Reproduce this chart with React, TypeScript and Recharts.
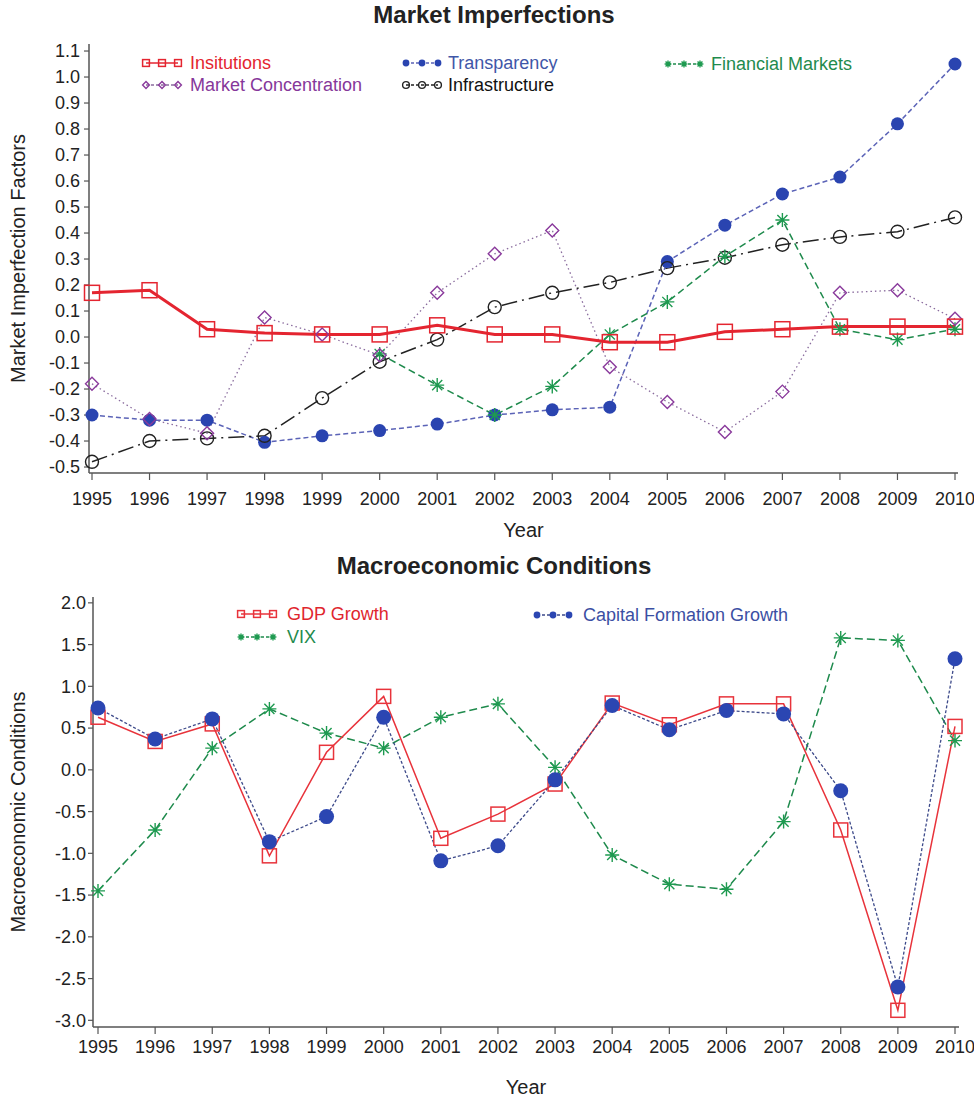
import React from 'react';
import { LineChart, Line, XAxis, YAxis } from 'recharts';

// shared x categories
const YEARS = [1995, 1996, 1997, 1998, 1999, 2000, 2001, 2002, 2003, 2004, 2005, 2006, 2007, 2008, 2009, 2010];

// Market Imperfections
const INSTITUTIONS = [0.17, 0.18, 0.03, 0.015, 0.01, 0.01, 0.045, 0.01, 0.01, -0.02, -0.02, 0.02, 0.03, 0.04, 0.04, 0.04];
const TRANSPARENCY = [-0.3, -0.32, -0.32, -0.405, -0.38, -0.36, -0.335, -0.3, -0.28, -0.27, 0.29, 0.43, 0.55, 0.615, 0.82, 1.05];
const FINANCIAL_MARKETS = [null, null, null, null, null, -0.065, -0.185, -0.3, -0.19, 0.01, 0.135, 0.31, 0.45, 0.03, -0.01, 0.03];
const MARKET_CONCENTRATION = [-0.18, -0.315, -0.37, 0.075, 0.01, -0.07, 0.17, 0.32, 0.41, -0.115, -0.25, -0.365, -0.21, 0.17, 0.18, 0.07];
const INFRASTRUCTURE = [-0.48, -0.4, -0.39, -0.38, -0.235, -0.095, -0.01, 0.115, 0.17, 0.21, 0.265, 0.305, 0.355, 0.385, 0.405, 0.46];
const MI_TICKS = [-0.5, -0.4, -0.3, -0.2, -0.1, 0, 0.1, 0.2, 0.3, 0.4, 0.5, 0.6, 0.7, 0.8, 0.9, 1.0, 1.1];

// Macroeconomic Conditions
const GDP_GROWTH = [0.63, 0.34, 0.55, -1.03, 0.21, 0.88, -0.82, -0.53, -0.17, 0.8, 0.54, 0.79, 0.79, -0.72, -2.88, 0.52];
const CAPITAL_FORMATION = [0.74, 0.37, 0.61, -0.86, -0.56, 0.63, -1.09, -0.91, -0.12, 0.77, 0.48, 0.71, 0.67, -0.25, -2.6, 1.33];
const VIX = [-1.45, -0.72, 0.26, 0.73, 0.44, 0.26, 0.63, 0.79, 0.03, -1.02, -1.37, -1.43, -0.62, 1.58, 1.55, 0.35];
const MC_TICKS = [-3, -2.5, -2, -1.5, -1, -0.5, 0, 0.5, 1, 1.5, 2];

const FONT = '"Liberation Sans", Arial, Helvetica, sans-serif';
const AXIS = '#555';

type Kind = 'square' | 'disc' | 'circle' | 'diamond' | 'star';

interface Series {
  key: string;
  name: string;
  stroke: string;
  width: number;
  dash?: string;
  kind: Kind;
  markColor: string;
  r: number;
  text: string;
}

const Marker = ({ kind, x, y, r, color }: { kind: Kind; x: number; y: number; r: number; color: string }) => {
  switch (kind) {
    case 'square':
      return <rect x={x - r} y={y - r} width={2 * r} height={2 * r} fill="none" stroke={color} strokeWidth={1.5} />;
    case 'disc':
      return <circle cx={x} cy={y} r={r} fill={color} />;
    case 'circle':
      return <circle cx={x} cy={y} r={r} fill="none" stroke={color} strokeWidth={1.4} />;
    case 'diamond':
      return <path d={`M${x},${y - r}L${x + r},${y}L${x},${y + r}L${x - r},${y}Z`} fill="none" stroke={color} strokeWidth={1.4} />;
    default: {
      const d = r * 0.72;
      return (
        <path
          d={`M${x},${y - r}V${y + r}M${x - r},${y}H${x + r}M${x - d},${y - d}L${x + d},${y + d}M${x - d},${y + d}L${x + d},${y - d}`}
          stroke={color}
          strokeWidth={1.4}
          fill="none"
        />
      );
    }
  }
};

const dotFor = (s: Series) => (p: any) => {
  const k = `${s.key}-${p.index}`;
  if (p.cx == null || p.cy == null || p.value == null) return <g key={k} />;
  return (
    <g key={k}>
      <Marker kind={s.kind} x={p.cx} y={p.cy} r={s.r} color={s.markColor} />
    </g>
  );
};

const MI_SERIES: Series[] = [
  { key: 'transparency', name: 'Transparency', stroke: '#5b63b7', width: 1.5, dash: '5 3', kind: 'disc', markColor: '#2a44b0', r: 6.5, text: '#3f57a8' },
  { key: 'infrastructure', name: 'Infrastructure', stroke: '#222', width: 1.5, dash: '16 5 2 5', kind: 'circle', markColor: '#222', r: 6.5, text: '#111' },
  { key: 'financial', name: 'Financial Markets', stroke: '#1e8a4c', width: 1.5, dash: '7 4', kind: 'star', markColor: '#1e9a50', r: 7, text: '#1f8b4d' },
  { key: 'concentration', name: 'Market Concentration', stroke: '#8a6c9e', width: 1.3, dash: '1.5 3', kind: 'diamond', markColor: '#8a3a9c', r: 6.5, text: '#86379a' },
  { key: 'institutions', name: 'Insitutions', stroke: '#e42530', width: 3, kind: 'square', markColor: '#e42530', r: 7.5, text: '#e4252f' },
];

const MC_SERIES: Series[] = [
  { key: 'vix', name: 'VIX', stroke: '#1e8a4c', width: 1.5, dash: '8 4', kind: 'star', markColor: '#1e9a50', r: 7, text: '#1f8b4d' },
  { key: 'gdp', name: 'GDP Growth', stroke: '#e8333b', width: 1.5, kind: 'square', markColor: '#e8333b', r: 7, text: '#e0262e' },
  { key: 'capital', name: 'Capital Formation Growth', stroke: '#3d4a8a', width: 1.3, dash: '3 2', kind: 'disc', markColor: '#2b46b2', r: 7.5, text: '#3b4fa3' },
];

const miData = YEARS.map((year, i) => ({
  year,
  institutions: INSTITUTIONS[i],
  transparency: TRANSPARENCY[i],
  financial: FINANCIAL_MARKETS[i],
  concentration: MARKET_CONCENTRATION[i],
  infrastructure: INFRASTRUCTURE[i],
}));

const mcData = YEARS.map((year, i) => ({
  year,
  gdp: GDP_GROWTH[i],
  capital: CAPITAL_FORMATION[i],
  vix: VIX[i],
}));

const byKey = (list: Series[], key: string) => list.find((s) => s.key === key)!;

const LegendItem = ({ s, x, y, textX }: { s: Series; x: number; y: number; textX: number }) => (
  <>
    <svg style={{ position: 'absolute', left: x, top: y - 7 }} width={44} height={14}>
      <line x1={5} y1={7} x2={37} y2={7} stroke={s.stroke} strokeWidth={Math.min(s.width, 1.5)} strokeDasharray={s.dash ? '3 2' : undefined} />
      {[5, 21, 37].map((mx) => (
        <Marker key={mx} kind={s.kind} x={mx} y={7} r={3.4} color={s.markColor} />
      ))}
    </svg>
    <span style={{ position: 'absolute', left: textX, top: y - 11, fontSize: 18, lineHeight: '22px', color: s.text, whiteSpace: 'nowrap' }}>
      {s.name}
    </span>
  </>
);

const Title = ({ text, top }: { text: string; top: number }) => (
  <div style={{ position: 'absolute', left: 0, width: 988, top, textAlign: 'center', fontSize: 24, lineHeight: '28px', fontWeight: 'bold', color: '#222' }}>
    {text}
  </div>
);

const tickStyle = { fontSize: 18, fill: '#222', fontFamily: FONT };
const axisTitle = { fontSize: 20, fill: '#222', fontFamily: FONT, textAnchor: 'middle' as const };

export default function App() {
  return (
    <div style={{ position: 'absolute', left: 0, top: 0, width: 974, height: 1099, background: '#fff', fontFamily: FONT, overflow: 'hidden' }}>
      <div style={{ position: 'absolute', left: 0, top: 0 }}>
        <LineChart width={974} height={545} data={miData} margin={{ top: 44, right: 16, bottom: 0, left: 0 }}>
          <XAxis
            dataKey="year"
            type="number"
            domain={[1995, 2010]}
            ticks={YEARS}
            interval={0}
            padding={{ left: 3, right: 3 }}
            height={72}
            tickSize={7}
            tickMargin={12}
            tick={tickStyle}
            axisLine={{ stroke: AXIS, strokeWidth: 1.5 }}
            tickLine={{ stroke: AXIS, strokeWidth: 1.2 }}
            label={{ value: 'Year', position: 'insideBottom', offset: 8, style: axisTitle }}
          />
          <XAxis xAxisId="frame" orientation="top" type="number" domain={[0, 1]} height={0} tick={false} tickLine={false} axisLine={{ stroke: AXIS, strokeWidth: 1.5 }} />
          <YAxis
            type="number"
            domain={[-0.523, 1.127]}
            ticks={MI_TICKS}
            interval={0}
            allowDataOverflow
            width={89}
            tickSize={5}
            tickMargin={4}
            tick={tickStyle}
            tickFormatter={(v: number) => v.toFixed(1)}
            axisLine={{ stroke: AXIS, strokeWidth: 1.5 }}
            tickLine={{ stroke: AXIS, strokeWidth: 1.2 }}
            label={{ value: 'Market Imperfection Factors', angle: -90, position: 'insideLeft', offset: 18, style: axisTitle }}
          />
          <YAxis yAxisId="frame" orientation="right" type="number" domain={[0, 1]} width={0} tick={false} tickLine={false} axisLine={{ stroke: AXIS, strokeWidth: 1.5 }} />
          {MI_SERIES.map((s) => (
            <Line
              key={s.key}
              type="linear"
              dataKey={s.key}
              name={s.name}
              stroke={s.stroke}
              strokeWidth={s.width}
              strokeDasharray={s.dash}
              dot={dotFor(s)}
              activeDot={false}
              connectNulls={false}
              isAnimationActive={false}
            />
          ))}
        </LineChart>
      </div>

      <div style={{ position: 'absolute', left: 0, top: 545 }}>
        <LineChart width={974} height={554} data={mcData} margin={{ top: 52, right: 15, bottom: 0, left: 0 }}>
          <XAxis
            dataKey="year"
            type="number"
            domain={[1995, 2010]}
            ticks={YEARS}
            interval={0}
            padding={{ left: 5, right: 4 }}
            height={72}
            tickSize={7}
            tickMargin={6}
            tick={tickStyle}
            axisLine={{ stroke: AXIS, strokeWidth: 1.5 }}
            tickLine={{ stroke: AXIS, strokeWidth: 1.2 }}
            label={{ value: 'Year', position: 'insideBottom', offset: 5, style: axisTitle }}
          />
          <XAxis xAxisId="frame" orientation="top" type="number" domain={[0, 1]} height={0} tick={false} tickLine={false} axisLine={{ stroke: AXIS, strokeWidth: 1.5 }} />
          <YAxis
            type="number"
            domain={[-3.08, 2.07]}
            ticks={MC_TICKS}
            interval={0}
            allowDataOverflow
            width={93}
            tickSize={5}
            tickMargin={2}
            tick={tickStyle}
            tickFormatter={(v: number) => v.toFixed(1)}
            axisLine={{ stroke: AXIS, strokeWidth: 1.5 }}
            tickLine={{ stroke: AXIS, strokeWidth: 1.2 }}
            label={{ value: 'Macroeconomic Conditions', angle: -90, position: 'insideLeft', offset: 18, style: axisTitle }}
          />
          <YAxis yAxisId="frame" orientation="right" type="number" domain={[0, 1]} width={0} tick={false} tickLine={false} axisLine={{ stroke: AXIS, strokeWidth: 1.5 }} />
          {MC_SERIES.map((s) => (
            <Line
              key={s.key}
              type="linear"
              dataKey={s.key}
              name={s.name}
              stroke={s.stroke}
              strokeWidth={s.width}
              strokeDasharray={s.dash}
              dot={dotFor(s)}
              activeDot={false}
              isAnimationActive={false}
            />
          ))}
        </LineChart>
      </div>

      <Title text="Market Imperfections" top={1} />
      <Title text="Macroeconomic Conditions" top={552} />

      <LegendItem s={byKey(MI_SERIES, 'institutions')} x={141} y={63} textX={190} />
      <LegendItem s={byKey(MI_SERIES, 'concentration')} x={141} y={85} textX={190} />
      <LegendItem s={byKey(MI_SERIES, 'transparency')} x={401} y={63} textX={448} />
      <LegendItem s={byKey(MI_SERIES, 'infrastructure')} x={401} y={85} textX={448} />
      <LegendItem s={byKey(MI_SERIES, 'financial')} x={663} y={64} textX={711} />

      <LegendItem s={byKey(MC_SERIES, 'gdp')} x={236} y={614} textX={287} />
      <LegendItem s={byKey(MC_SERIES, 'vix')} x={236} y={637} textX={287} />
      <LegendItem s={byKey(MC_SERIES, 'capital')} x={532} y={615} textX={583} />
    </div>
  );
}
